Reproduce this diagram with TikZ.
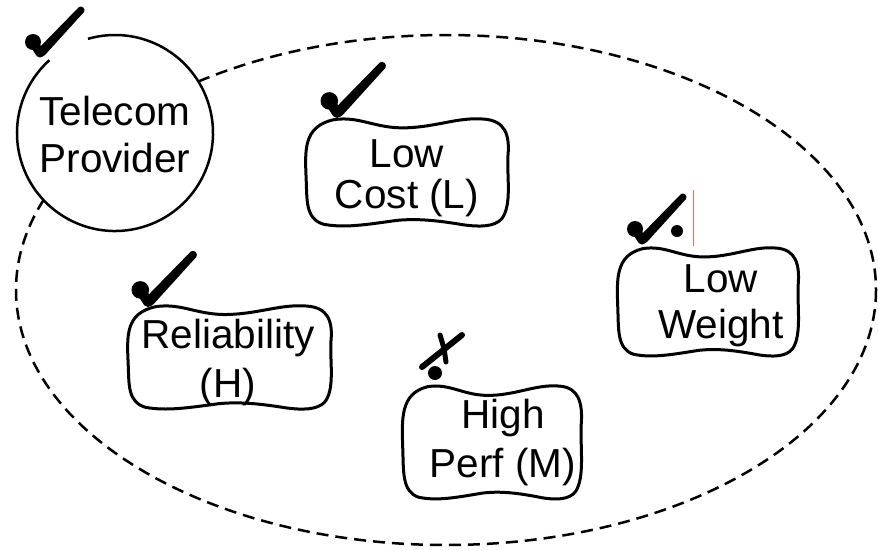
\documentclass[tikz,border=0pt]{standalone}
\usepackage{fontspec}
\setmainfont{Liberation Sans}
\definecolor{cursorred}{RGB}{226,110,110}
\tikzset{
  lbl/.style={anchor=base, inner sep=0pt, font=\fontsize{40.5}{47}\selectfont},
  sg/.style={draw=black, fill=white, line width=3pt, line join=round},
  actorline/.style={draw=black, line width=2.5pt},
  boundary/.style={draw=black, line width=2.5pt, dash pattern=on 12pt off 7pt},
}
\newcommand\sgcloud[4]{%
  \begin{scope}[shift={(#1,#2)}, xscale=#3, yscale=#4]
    \draw[sg] (-0.70,-0.97) .. controls (-0.45,-1.04) and (-0.30,-0.80) .. (0,-0.82)
      .. controls (0.30,-0.84) and (0.50,-1.02) .. (0.75,-0.98)
      .. controls (0.95,-0.95) and (1.0,-0.7) .. (0.98,-0.3)
      .. controls (0.97,0.1) and (1.02,0.6) .. (0.92,0.85)
      .. controls (0.85,1.0) and (0.7,1.0) .. (0.55,0.96)
      .. controls (0.3,0.88) and (0.1,0.84) .. (-0.1,0.88)
      .. controls (-0.4,0.96) and (-0.6,1.02) .. (-0.80,0.95)
      .. controls (-0.98,0.85) and (-0.96,0.5) .. (-0.97,0.1)
      .. controls (-0.98,-0.4) and (-1.0,-0.85) .. (-0.70,-0.97) -- cycle;
  \end{scope}}
\newcommand\chkmark[3]{%
  \begin{scope}[shift={(#1,#2)}, scale=#3]
    \fill (-7,-11) circle[radius=8];
    \fill (-10.8,-8.6) -- (-3.2,-13.4) -- (3.8,-2.4) -- (-3.8,2.4) -- cycle;
    \fill (0,0) circle[radius=4.5];
    \fill (-4,-2) -- (39,-46) .. controls (42,-48) and (46,-44) .. (44,-41)
      -- (5,2) .. controls (3,5) and (-4,3) .. (-4,-2) -- cycle;
  \end{scope}}
\begin{document}
\begin{tikzpicture}[x=1pt, y=-1pt]
\useasboundingbox (0,0) rectangle (878,550);
% boundary of the actor
\draw[boundary] (446,290) ellipse [x radius=430, y radius=255];
% actor circle
\fill[white] (115,133) circle[radius=98];
\draw[actorline] (115,133) ++(-106:98) arc[start angle=-106, end angle=228, radius=98];
\node[lbl] (tp) at (115,125) {\begin{tabular}[t]{@{}c@{}}Telecom\\Provider\end{tabular}};
% softgoals
\sgcloud{406.5}{172.5}{103.5}{54.5}
\sgcloud{707.5}{302}{92.5}{55}
\sgcloud{229}{357.5}{104}{52.5}
\sgcloud{491.5}{442.5}{91.5}{57.5}
\node[lbl] (lc) at (407,167) {\begin{tabular}[t]{@{}c@{}}Low\\[-6pt]Cost (L)\end{tabular}};
\node[lbl] (lw) at (721,292) {\begin{tabular}[t]{@{}c@{}}Low\\[-1pt]Weight\end{tabular}};
\node[lbl] (rel) at (228,348) {\begin{tabular}[t]{@{}c@{}}Reliability\\[2pt](H)\end{tabular}};
\node[lbl] (hp) at (503,428) {\begin{tabular}[t]{@{}c@{}}High\\[2pt]Perf (M)\end{tabular}};
% evaluation marks
\chkmark{40}{53}{1}
\chkmark{337}{113}{1.1}
\chkmark{148}{302}{1.1}
\chkmark{642}{240}{1}
\fill (677,231) circle[radius=6];
\draw[line width=6pt, line cap=round] (422,367) -- (462,335);
\draw[line width=5pt, line cap=round] (440,335) .. controls (444,348) .. (446,362);
\fill (435,373) circle[radius=7];
% stray cursor line
\draw[cursorred, line width=1pt] (693,190) -- (693,246);
\end{tikzpicture}
\end{document}
